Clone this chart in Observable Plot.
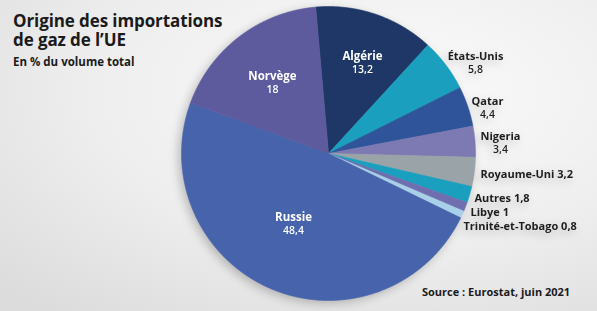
<!DOCTYPE html>
<html><head><meta charset="utf-8">
<script src="https://cdn.jsdelivr.net/npm/d3@7"></script>
<script src="https://cdn.jsdelivr.net/npm/@observablehq/plot@0.6"></script>
<style>
body{margin:0;}
#wrap{position:relative;width:597px;height:311px;overflow:hidden;
  background: radial-gradient(ellipse 90% 90% at 65% 30%, #fbfbfb 0%, #eeeeee 55%, #dcdcdc 100%);
  font-family:"Open Sans",sans-serif;}
#chart{position:absolute;left:0;top:0;}
#chart svg{filter:drop-shadow(-3px 3px 5px rgba(0,0,0,0.22));}
.title{position:absolute;left:13px;top:11px;font-weight:700;font-size:17px;line-height:19px;color:#1b1b1b;letter-spacing:-0.1px;}
.subtitle{position:absolute;left:13px;top:55px;font-weight:700;font-size:11.5px;line-height:14px;color:#1b1b1b;}
.source{position:absolute;left:422px;top:285px;font-weight:700;font-size:11px;line-height:14px;color:#1b1b1b;}
</style></head>
<body><div id="wrap">
<div id="chart"></div>
<div class="title">Origine des importations<br>de gaz de l’UE</div>
<div class="subtitle">En % du volume total</div>
<div class="source">Source : Eurostat, juin 2021</div>
</div>
<script>
// Data
const countries = ["Algérie","États-Unis","Qatar","Nigeria","Royaume-Uni","Autres","Libye","Trinité-et-Tobago","Russie","Norvège"];
const shares = [13.2,5.8,4.4,3.4,3.2,1.8,1,0.8,48.4,18];
const shareLabels = ["13,2","5,8","4,4","3,4","3,2","1,8","1","0,8","48,4","18"];
const colors = ["#1f3766","#1b9fbf","#2f5499","#7d79b3","#9aa3a8","#1a9fbf","#6f6fb0","#a8d0e8","#4763ab","#5e5a9e"];

// Layout (not data)
const cx = 328, cy = 153, R = 147, startDeg = -5;
const insideSet = new Set(["Algérie","Norvège","Russie"]);
const labelPos = {
  "Algérie":[362,62,"middle"], "Norvège":[272,82,"middle"], "Russie":[293,223,"middle"],
  "États-Unis":[475,62,"middle"], "Qatar":[487,107,"middle"], "Nigeria":[500,142,"middle"],
  "Royaume-Uni":[480,174,"start"], "Autres":[474,198,"start"], "Libye":[470,212,"start"], "Trinité-et-Tobago":[463,226,"start"]
};

const total = d3.sum(shares);
const pts = [];
let acc = 0;
countries.forEach((name, i) => {
  const a0 = (startDeg + acc / total * 360) * Math.PI / 180;
  acc += shares[i];
  const a1 = (startDeg + acc / total * 360) * Math.PI / 180;
  pts.push({name, x: 0, y: 0});
  const n = Math.max(2, Math.ceil((a1 - a0) / 0.005));
  for (let k = 0; k <= n; k++) {
    const a = a0 + (a1 - a0) * k / n;
    pts.push({name, x: Math.sin(a), y: Math.cos(a)});
  }
  pts.push({name, x: 0, y: 0});
});

const labels = countries.map((name, i) => {
  const [px, py, anchor] = labelPos[name];
  return {
    name, value: shareLabels[i], inside: insideSet.has(name), anchor,
    line: name + " " + shareLabels[i],
    x: (px - cx) / R, y: (cy - py) / R
  };
});
const inside = labels.filter(d => d.inside);
const outside2 = labels.filter(d => !d.inside && d.anchor === "middle");
const outside1 = labels.filter(d => d.anchor === "start");

const plot = Plot.plot({
  width: 597, height: 311, margin: 0,
  style: {background: "transparent", overflow: "visible"},
  x: {domain: [-1, 1], range: [cx - R, cx + R], axis: null},
  y: {domain: [-1, 1], range: [cy + R, cy - R], axis: null},
  color: {domain: countries, range: colors},
  marks: [
    Plot.line(pts, {x: "x", y: "y", z: "name", fill: "name", stroke: "name", strokeWidth: 0.6, curve: "linear"}),
    Plot.text(inside, {x: "x", y: "y", text: "name", dy: -6.5, fill: "white", fontWeight: 700, fontSize: 11.5, fontFamily: "Open Sans"}),
    Plot.text(inside, {x: "x", y: "y", text: "value", dy: 7, fill: "white", fontWeight: 600, fontSize: 10.5, fontFamily: "Open Sans"}),
    Plot.text(outside2, {x: "x", y: "y", text: "name", dy: -6.5, fill: "#1e1e1e", fontWeight: 700, fontSize: 11, fontFamily: "Open Sans"}),
    Plot.text(outside2, {x: "x", y: "y", text: "value", dy: 7, fill: "#1e1e1e", fontWeight: 600, fontSize: 10.5, fontFamily: "Open Sans"}),
    Plot.text(outside1, {x: "x", y: "y", text: "line", textAnchor: "start", fill: "#1e1e1e", fontWeight: 700, fontSize: 11, fontFamily: "Open Sans"})
  ]
});
document.getElementById("chart").appendChild(plot);
</script>
</body></html>
